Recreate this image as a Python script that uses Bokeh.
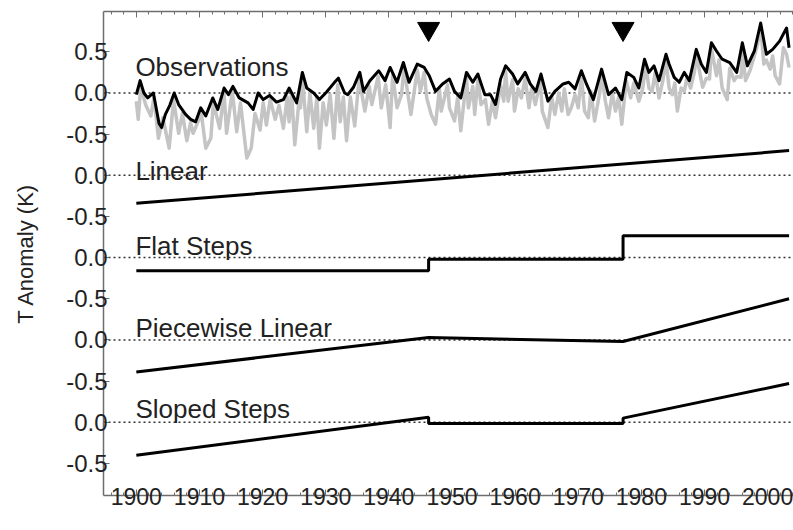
from bokeh.plotting import figure
from bokeh.models import (Range1d, LinearAxis, FixedTicker, SingleIntervalTicker, Span,
                          ColumnDataSource, CustomJSTickFormatter)
from bokeh.core.properties import value
from bokeh.embed import file_html
from bokeh.resources import INLINE

# ---------------- data ----------------
obs_black_years = [1900.0, 1900.6, 1901.2, 1901.8, 1902.7, 1903.6, 1904.0, 1904.6, 1905.3, 1906.0,
                   1906.7, 1907.8, 1908.6, 1909.4, 1910.2, 1911.0, 1912.1, 1912.9, 1913.9, 1914.6,
                   1915.3, 1916.3, 1917.7, 1918.5, 1919.3, 1920.1, 1921.1, 1922.2, 1923.3, 1924.2,
                   1925.4, 1926.3, 1927.0, 1928.1, 1929.0, 1930.1, 1931.3, 1932.0, 1933.0, 1933.5,
                   1934.4, 1935.4, 1936.0, 1937.0, 1938.4, 1939.4, 1940.2, 1941.3, 1942.3, 1943.2,
                   1944.5, 1945.6, 1946.4, 1947.4, 1948.5, 1949.6, 1950.4, 1951.4, 1952.3, 1953.3,
                   1954.1, 1955.2, 1956.1, 1956.9, 1957.7, 1958.5, 1959.6, 1960.4, 1961.6, 1962.4,
                   1963.3, 1964.1, 1965.2, 1966.3, 1967.6, 1968.5, 1969.5, 1970.5, 1971.3, 1972.4,
                   1973.7, 1974.8, 1975.9, 1976.9, 1977.7, 1978.8, 1979.6, 1980.5, 1981.2, 1982.0,
                   1982.8, 1983.9, 1984.4, 1985.2, 1986.0, 1986.8, 1987.6, 1988.7, 1989.5, 1990.3,
                   1991.1, 1991.9, 1992.8, 1994.0, 1995.1, 1996.0, 1996.8, 1997.9, 1998.9, 1999.8,
                   2000.8, 2001.9, 2003.0, 2003.4]
obs_black_vals = [-0.02, 0.15, 0.0, -0.06, 0.0, -0.37, -0.42, -0.26, -0.15, 0.0,
                  -0.14, -0.26, -0.32, -0.35, -0.18, -0.28, -0.06, -0.20, 0.06, -0.02,
                  0.08, -0.06, -0.12, -0.20, 0.0, -0.08, -0.03, -0.11, -0.08, 0.06,
                  -0.12, 0.25, 0.06, 0.0, -0.08, 0.01, 0.12, 0.18, 0.0, -0.02,
                  0.07, 0.25, 0.02, 0.15, 0.27, 0.15, 0.31, 0.13, 0.37, 0.13,
                  0.35, 0.31, 0.21, 0.02, 0.11, 0.17, 0.02, -0.06, 0.25, 0.13,
                  0.23, -0.02, -0.02, -0.14, 0.17, 0.33, 0.23, 0.11, 0.25, 0.11,
                  0.02, 0.23, -0.10, 0.02, 0.11, 0.13, 0.05, 0.27, 0.11, -0.08,
                  0.29, -0.02, 0.06, -0.08, 0.25, 0.19, 0.06, 0.41, 0.25, 0.33,
                  0.15, 0.47, 0.35, 0.19, 0.13, 0.25, 0.15, 0.53, 0.35, 0.25,
                  0.61, 0.51, 0.41, 0.37, 0.25, 0.61, 0.33, 0.51, 0.85, 0.47,
                  0.53, 0.63, 0.79, 0.55]

obs_gray_years = [1900.0, 1900.3, 1900.7, 1901.5, 1902.3, 1902.8, 1903.5, 1904.2, 1905.2, 1905.9,
                  1906.7, 1907.3, 1908.0, 1908.6, 1909.0, 1909.6, 1910.3, 1911.0, 1911.8, 1912.2,
                  1913.2, 1913.9, 1914.3, 1915.2, 1915.9, 1916.5, 1917.5, 1918.2, 1918.8, 1919.6,
                  1920.1, 1920.6, 1921.2, 1922.0, 1922.6, 1923.3, 1923.9, 1924.2, 1924.6, 1925.1,
                  1925.7, 1926.0, 1926.3, 1927.0, 1927.5, 1928.1, 1928.6, 1929.0, 1929.6, 1930.1,
                  1930.7, 1931.3, 1931.9, 1932.3, 1932.8, 1933.3, 1933.9, 1934.6, 1935.3, 1936.2,
                  1936.9, 1937.3, 1938.3, 1938.8, 1939.5, 1940.2, 1940.6, 1941.3, 1942.0, 1942.4,
                  1943.5, 1944.5, 1945.0, 1945.6, 1946.0, 1946.7, 1947.4, 1948.0, 1948.3, 1949.3,
                  1949.6, 1950.4, 1950.9, 1951.4, 1952.3, 1952.6, 1953.3, 1953.6, 1954.1, 1954.6,
                  1955.3, 1955.8, 1956.4, 1956.9, 1957.7, 1958.2, 1958.5, 1958.9, 1959.6, 1959.9,
                  1960.5, 1961.0, 1961.6, 1962.2, 1962.6, 1963.2, 1964.0, 1964.3, 1965.2, 1965.8,
                  1966.3, 1966.9, 1967.4, 1967.8, 1968.4, 1968.9, 1969.5, 1970.0, 1970.5, 1971.0,
                  1971.6, 1972.0, 1972.6, 1973.4, 1973.7, 1974.3, 1974.8, 1975.4, 1975.9, 1976.4,
                  1976.9, 1977.6, 1978.3, 1978.8, 1979.6, 1980.2, 1980.7, 1981.2, 1981.7, 1982.2,
                  1982.8, 1983.4, 1983.9, 1984.4, 1984.9, 1985.3, 1985.7, 1986.3, 1986.8, 1987.2,
                  1987.8, 1988.4, 1988.7, 1989.2, 1989.7, 1990.3, 1990.8, 1991.1, 1991.9, 1992.3,
                  1992.8, 1993.6, 1994.0, 1994.7, 1995.1, 1995.8, 1996.0, 1996.5, 1997.2, 1997.9,
                  1998.4, 1998.9, 1999.4, 1999.8, 2000.4, 2000.8, 2001.2, 2001.9, 2002.5, 2003.0,
                  2003.4]
obs_gray_vals = [-0.10, -0.32, 0.08, -0.15, -0.28, -0.05, -0.55, -0.30, -0.67, -0.08,
                 -0.49, -0.25, -0.58, -0.36, -0.49, -0.38, -0.25, -0.67, -0.55, -0.12,
                 -0.43, 0.0, -0.49, 0.02, -0.47, -0.12, -0.79, -0.67, -0.25, -0.45,
                 -0.12, -0.39, -0.08, -0.32, -0.15, -0.43, -0.05, -0.35, 0.0, -0.63,
                 -0.15, -0.18, 0.20, -0.47, 0.0, -0.43, -0.05, -0.67, -0.12, -0.39,
                 -0.02, -0.55, 0.10, -0.35, -0.05, -0.58, -0.05, -0.40, 0.18, -0.22,
                 0.08, -0.14, 0.20, -0.18, 0.10, -0.42, 0.22, -0.18, -0.02, 0.30,
                 -0.26, 0.28, 0.02, 0.25, -0.06, -0.26, -0.38, 0.05, -0.22, 0.10,
                 -0.18, -0.34, -0.05, -0.46, 0.18, -0.18, 0.08, -0.26, 0.16, -0.14,
                 -0.08, -0.38, -0.10, -0.30, 0.10, -0.10, 0.26, -0.10, 0.16, -0.22,
                 0.05, -0.06, 0.18, -0.18, 0.05, -0.14, 0.15, -0.22, -0.42, -0.05,
                 -0.26, 0.0, -0.22, 0.05, -0.26, -0.18, -0.02, -0.18, 0.20, -0.22,
                 -0.30, 0.02, -0.34, 0.0, 0.22, -0.10, -0.30, 0.0, -0.22, -0.05,
                 -0.38, 0.15, -0.06, 0.12, -0.10, 0.05, 0.34, 0.06, 0.02, 0.25,
                 -0.06, 0.15, 0.40, 0.06, -0.02, 0.12, -0.22, 0.06, 0.02, 0.18,
                 0.06, 0.25, 0.45, 0.27, 0.07, 0.18, 0.17, 0.54, 0.21, 0.40,
                 0.06, -0.08, 0.30, 0.15, 0.20, 0.19, 0.55, 0.15, 0.27, 0.45,
                 0.59, 0.80, 0.35, 0.40, 0.29, 0.45, 0.21, 0.11, 0.55, 0.47,
                 0.31]

break_years = [1946.3, 1977.1]

linear_years = [1900, 2003.4]
linear_vals = [-0.34, 0.30]

flat_years = [1900, 1946.3, 1946.3, 1977.1, 1977.1, 2003.4]
flat_vals = [-0.16, -0.16, -0.02, -0.02, 0.265, 0.265]

piecewise_years = [1900, 1946.3, 1977.1, 2003.4]
piecewise_vals = [-0.39, 0.03, -0.02, 0.50]

sloped_years = [1900, 1946.3, 1946.3, 1977.1, 1977.1, 2003.4]
sloped_vals = [-0.40, 0.06, -0.015, -0.015, 0.05, 0.47]

panel_names = ["Observations", "Linear", "Flat Steps", "Piecewise Linear", "Sloped Steps"]
panel_offsets = [0, -1, -2, -3, -4]

y_tick_values = [0.5, 0.0, -0.5, -1.0, -1.5, -2.0, -2.5, -3.0, -3.5, -4.0, -4.5]
y_tick_labels = ["0.5", "0.0", "-0.5", "0.0", "-0.5", "0.0", "-0.5", "0.0", "-0.5", "0.0", "-0.5"]

# ---------------- figure ----------------
FONT = "Liberation Sans"
AX = "#6e6e6e"

p = figure(width=793, height=530,
           x_range=Range1d(1894.8, 2004.1), y_range=Range1d(-4.89, 0.99),
           output_backend="svg", toolbar_location=None,
           min_border_left=103, min_border_right=0, min_border_top=11, min_border_bottom=35)
p.grid.visible = False
p.outline_line_color = None
p.background_fill_color = "white"
p.border_fill_color = "white"

# x axis (bottom)
xa = p.xaxis[0]
xa.ticker = SingleIntervalTicker(interval=10, num_minor_ticks=5)
xa.axis_line_color = AX
xa.axis_line_width = 1.5
xa.major_tick_line_color = AX
xa.minor_tick_line_color = AX
xa.major_tick_in = 6
xa.major_tick_out = 0
xa.minor_tick_in = 3
xa.minor_tick_out = 0
xa.major_label_text_font = FONT
xa.major_label_text_font_size = "23px"
xa.major_label_text_color = "#222222"
xa.major_label_standoff = -8

# top axis (ticks only)
ta = LinearAxis(ticker=SingleIntervalTicker(interval=10, num_minor_ticks=5),
                formatter=CustomJSTickFormatter(code="return ''"))
ta.axis_line_color = AX
ta.axis_line_width = 1.5
ta.major_tick_line_color = AX
ta.minor_tick_line_color = AX
ta.major_tick_in = 6
ta.major_tick_out = 0
ta.minor_tick_in = 3
ta.minor_tick_out = 0
ta.major_label_standoff = 0
p.add_layout(ta, "above")

# y axis
ya = p.yaxis[0]
ya.ticker = FixedTicker(ticks=y_tick_values, minor_ticks=[])
ya.major_label_overrides = {t: l for t, l in zip(y_tick_values, y_tick_labels)}
ya.axis_line_color = AX
ya.axis_line_width = 1.5
ya.major_tick_line_color = AX
ya.major_tick_in = 6
ya.major_tick_out = 0
ya.minor_tick_line_color = None
ya.major_label_text_font = FONT
ya.major_label_text_font_size = "24px"
ya.major_label_text_color = "#222222"
ya.major_label_standoff = -4
ya.axis_label = "T Anomaly (K)"
ya.axis_label_text_font = FONT
ya.axis_label_text_font_size = "22px"
ya.axis_label_text_font_style = "normal"
ya.axis_label_text_color = "#222222"
ya.axis_label_standoff = 25

# dotted zero lines
for off in panel_offsets:
    p.add_layout(Span(location=off, dimension="width", line_color="#333333",
                      line_width=1.5, line_dash="2 3", level="underlay"))

# observations
p.line(obs_gray_years, obs_gray_vals, line_color="#c4c4c4", line_width=3.5, line_join="round")
p.line(obs_black_years, obs_black_vals, line_color="black", line_width=3, line_join="round")

# models
model_series = [(linear_years, linear_vals), (flat_years, flat_vals),
                (piecewise_years, piecewise_vals), (sloped_years, sloped_vals)]
for (yrs, vals), off in zip(model_series, panel_offsets[1:]):
    p.line(yrs, [v + off for v in vals], line_color="black", line_width=3)

# breakpoint markers
p.scatter(break_years, [0.78] * len(break_years), marker="inverted_triangle",
          size=22, fill_color="black", line_color="black")

# panel labels
label_dy = [0.31, 0.055, 0.144, 0.15, 0.16]
src = ColumnDataSource(dict(x=[1899.85] * len(panel_names),
                            y=[o + d for o, d in zip(panel_offsets, label_dy)],
                            t=panel_names))
p.text(x="x", y="y", text="t", source=src, text_font=value(FONT), text_font_size="26px",
       text_baseline="alphabetic", text_align="left", text_color="#222222")

open("out.html", "w").write(file_html(p, INLINE))
